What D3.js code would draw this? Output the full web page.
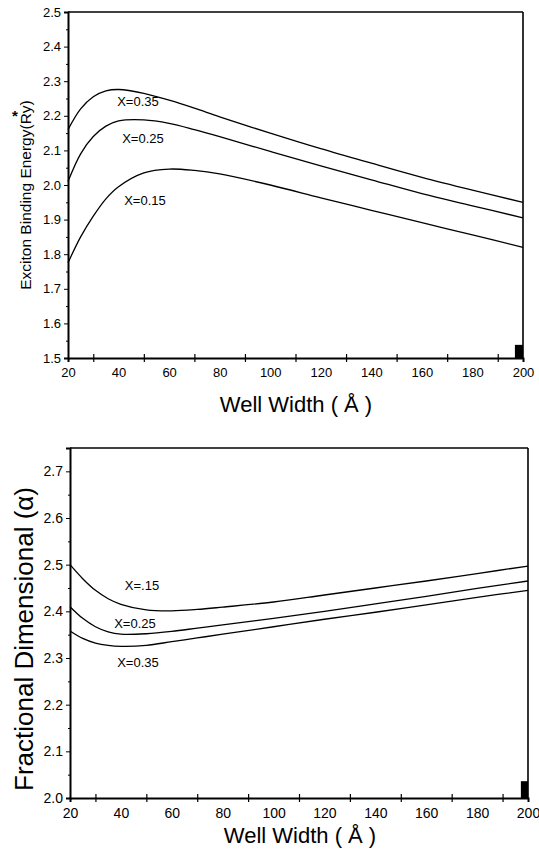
<!DOCTYPE html>
<html>
<head>
<meta charset="utf-8">
<script src="https://cdn.jsdelivr.net/npm/d3@7"></script>
<style>
  body { margin: 0; background: #fff; }
  text { font-family: "Liberation Sans", Arial, sans-serif; fill: #000; }
</style>
</head>
<body>
<svg width="539" height="859"></svg>
<script>
// well width (A) sampled along the curves
var widths = [20, 25, 30, 35, 40, 50, 60, 70, 80, 100, 120, 140, 160, 180, 200];

// exciton binding energy (Ry*)
var energy_035 = [2.16, 2.22, 2.255, 2.272, 2.276, 2.265, 2.245, 2.222, 2.197, 2.15, 2.105, 2.063, 2.022, 1.985, 1.95];
var energy_025 = [2.01, 2.09, 2.14, 2.17, 2.185, 2.188, 2.178, 2.16, 2.14, 2.097, 2.055, 2.015, 1.975, 1.94, 1.905];
var energy_015 = [1.775, 1.85, 1.91, 1.96, 1.995, 2.035, 2.046, 2.042, 2.032, 2.0, 1.963, 1.927, 1.891, 1.856, 1.82];

// fractional dimension (alpha)
var alpha_015 = [2.5, 2.47, 2.445, 2.427, 2.415, 2.403, 2.401, 2.404, 2.409, 2.42, 2.435, 2.45, 2.465, 2.481, 2.497];
var alpha_025 = [2.41, 2.385, 2.367, 2.356, 2.351, 2.352, 2.357, 2.364, 2.371, 2.385, 2.40, 2.416, 2.432, 2.449, 2.465];
var alpha_035 = [2.358, 2.342, 2.332, 2.327, 2.325, 2.327, 2.335, 2.343, 2.351, 2.367, 2.383, 2.398, 2.414, 2.43, 2.445];

var x_labels = [20, 40, 60, 80, 100, 120, 140, 160, 180, 200];
var x_marks = [30, 50, 70, 90, 110, 130, 150, 170, 190];
var energy_ticks = [1.5, 1.6, 1.7, 1.8, 1.9, 2.0, 2.1, 2.2, 2.3, 2.4, 2.5];
var energy_minor = [1.55, 1.65, 1.75, 1.85, 1.95, 2.05, 2.15, 2.25, 2.35, 2.45];
var alpha_ticks = [2.0, 2.1, 2.2, 2.3, 2.4, 2.5, 2.6, 2.7];
var alpha_minor = [2.05, 2.15, 2.25, 2.35, 2.45, 2.55, 2.65];

var svg = d3.select("svg");

function dibujar_panel(p) {
  var x = d3.scaleLinear().domain([20, 200]).range([p.left, p.right]);
  var y = d3.scaleLinear().domain(p.ydom).range([p.bottom, p.top]);
  var g = svg.append("g");

  // frame
  g.append("line").attr("x1", p.left).attr("x2", p.right).attr("y1", p.top).attr("y2", p.top)
    .attr("stroke", "#000").attr("stroke-width", 1.6);
  g.append("line").attr("x1", p.right).attr("x2", p.right).attr("y1", p.top).attr("y2", p.bottom)
    .attr("stroke", "#000").attr("stroke-width", 1.6);

  // x axis: tick marks at odd tens, labels at even
  var xa = g.append("g").attr("transform", "translate(0," + p.bottom + ")")
    .call(d3.axisBottom(x).tickValues(x_marks).tickSize(4).tickFormat(""));
  xa.selectAll(".tick line").attr("y1", -4).attr("stroke-width", 1.2);
  xa.select(".domain").attr("stroke-width", 2);
  var xl = g.append("g").attr("transform", "translate(0," + p.bottom + ")")
    .call(d3.axisBottom(x).tickValues(x_labels).tickSize(0).tickPadding(p.xpad).tickFormat(d3.format("d")));
  xl.select(".domain").remove();
  xl.selectAll("text").style("font-size", p.tickfont + "px");

  // y axis
  var ya = g.append("g").attr("transform", "translate(" + p.left + ",0)")
    .call(d3.axisLeft(y).tickValues(p.yticks).tickSize(4).tickPadding(3).tickFormat(d3.format(".1f")));
  ya.select(".domain").attr("stroke-width", 2);
  ya.selectAll("text").style("font-size", p.tickfont + "px");
  g.append("g").attr("transform", "translate(" + p.left + ",0)")
    .call(d3.axisLeft(y).tickValues(p.yminor).tickSize(2).tickFormat(""))
    .select(".domain").remove();

  // curves
  var line = d3.line()
    .curve(d3.curveCatmullRom)
    .x(function(d) { return x(d[0]); })
    .y(function(d) { return y(d[1]); });

  p.series.forEach(function(s) {
    g.append("path")
      .datum(widths.map(function(w, i) { return [w, s.values[i]]; }))
      .attr("fill", "none")
      .attr("stroke", "#000")
      .attr("stroke-width", 1.3)
      .attr("d", line);
    g.append("text")
      .attr("x", s.lx).attr("y", s.ly)
      .attr("text-anchor", "middle")
      .style("font-size", "13px")
      .text(s.name);
  });

  // small black block at the corner
  g.append("rect")
    .attr("x", x(p.block[0])).attr("y", y(p.block[1]))
    .attr("width", x(200) - x(p.block[0]))
    .attr("height", y(p.ydom[0]) - y(p.block[1]))
    .attr("fill", "#000");

  // titles
  g.append("text")
    .attr("x", p.xt[0]).attr("y", p.xt[1])
    .attr("text-anchor", "middle")
    .style("font-size", "22px")
    .text("Well Width ( Å )");
  g.append("text")
    .attr("transform", "translate(" + p.yt[0] + "," + p.yt[1] + ") rotate(-90)")
    .attr("text-anchor", "middle")
    .style("font-size", p.ytfont + "px")
    .text(p.ytitle);
}

dibujar_panel({
  left: 68, right: 523, top: 12, bottom: 358,
  ydom: [1.5, 2.5], yticks: energy_ticks, yminor: energy_minor,
  tickfont: 13, xpad: 10,
  series: [
    {name: "X=0.35", values: energy_035, lx: 138, ly: 106},
    {name: "X=0.25", values: energy_025, lx: 143, ly: 143},
    {name: "X=0.15", values: energy_015, lx: 145, ly: 205}
  ],
  block: [196.8, 1.538],
  xt: [296, 412], yt: [31, 195], ytfont: 15.5, ytitle: "Exciton Binding Energy(Ry)"
});

// asterisk of Ry*, set over the R
svg.append("text").attr("x", 15).attr("y", 121).attr("text-anchor", "middle")
  .style("font-size", "15px").style("font-weight", "bold").text("*");

dibujar_panel({
  left: 70, right: 528, top: 448, bottom: 798,
  ydom: [2.0, 2.75], yticks: alpha_ticks, yminor: alpha_minor,
  tickfont: 14, xpad: 10,
  series: [
    {name: "X=.15", values: alpha_015, lx: 142, ly: 590},
    {name: "X=0.25", values: alpha_025, lx: 135, ly: 628},
    {name: "X=0.35", values: alpha_035, lx: 138, ly: 667}
  ],
  block: [197.2, 2.036],
  xt: [300, 843], yt: [33, 639], ytfont: 26, ytitle: "Fractional Dimensional (α)"
});
</script>
</body>
</html>
